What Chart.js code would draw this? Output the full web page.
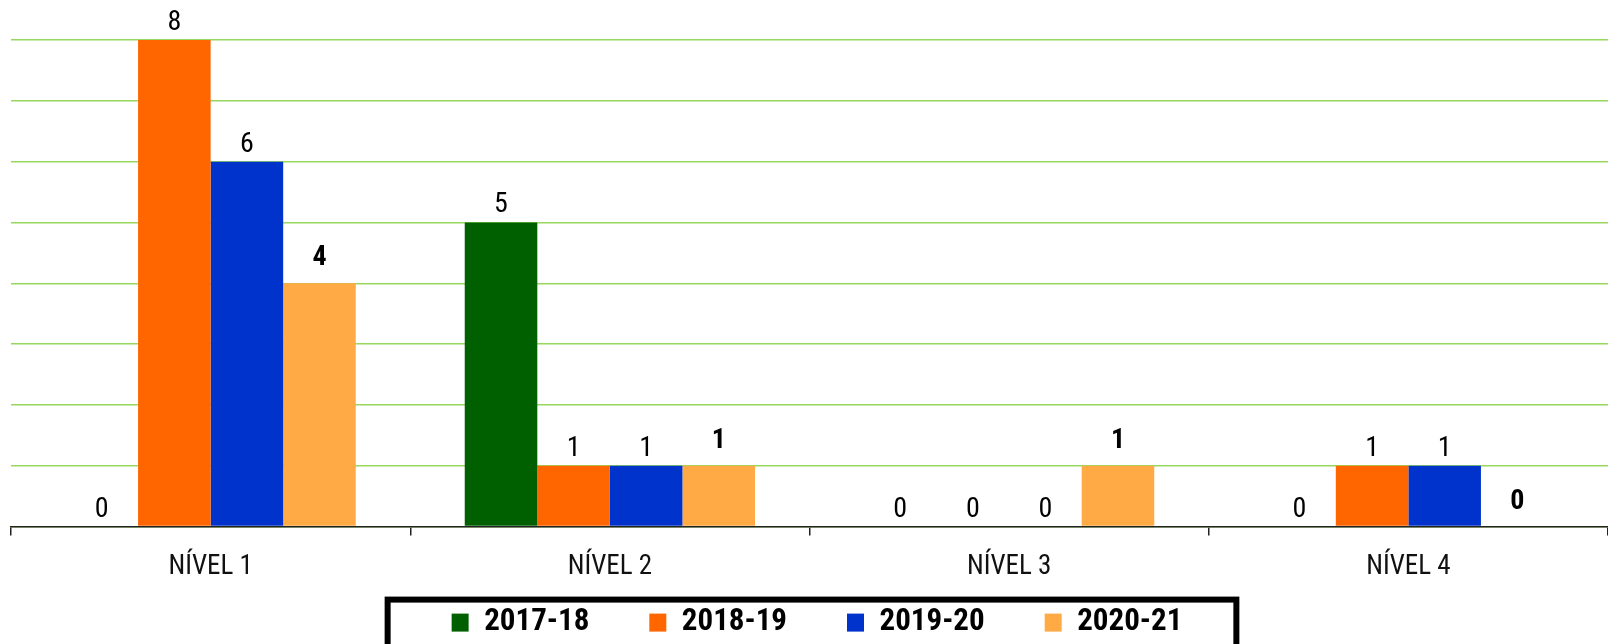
<!DOCTYPE html>
<html>
<head>
<meta charset="utf-8">
<script src="https://cdn.jsdelivr.net/npm/chart.js@4/dist/chart.umd.min.js"></script>
<style>
  html, body { margin: 0; padding: 0; background: #ffffff; }
  #wrap { width: 1608px; height: 644px; position: relative; }
</style>
</head>
<body>
<div id="wrap"><canvas id="c"></canvas></div>
<script>
const categories = ["NÍVEL 1", "NÍVEL 2", "NÍVEL 3", "NÍVEL 4"];
const seriesNames = ["2017-18", "2018-19", "2019-20", "2020-21"];
const values2017 = [0, 5, 0, 0];
const values2018 = [8, 1, 0, 1];
const values2019 = [6, 1, 0, 1];
const values2020 = [4, 1, 1, 0];
const yTicks = [0, 1, 2, 3, 4, 5, 6, 7, 8];

const colors = ["#006000", "#FF6600", "#0033CC", "#FFAA44"];
const FONT = '"Roboto Condensed", "Open Sans", sans-serif';
const labelBold = [false, false, false, true];

const dataLabels = {
  id: 'dataLabels',
  afterDatasetsDraw(chart) {
    const ctx = chart.ctx;
    chart.data.datasets.forEach((ds, i) => {
      const meta = chart.getDatasetMeta(i);
      meta.data.forEach((el, j) => {
        ctx.save();
        ctx.font = (labelBold[i] ? 'bold ' : '') + '28px ' + FONT;
        ctx.fillStyle = '#000';
        ctx.textAlign = 'center';
        ctx.textBaseline = 'alphabetic';
        ctx.fillText(String(ds.data[j]), el.x, el.y - (labelBold[i] ? 18 : 10));
        ctx.restore();
      });
    });
  }
};

const legendPlace = {
  id: 'legendPlace',
  afterLayout(chart) {
    const lg = chart.legend;
    const pad = lg.options.labels.padding;
    const ih = lg.options.labels.font.size;
    const top = chart.chartArea.bottom + 96 - pad - ih / 2;
    lg.height = ih + pad + 10;
    lg.top = top;
    lg.bottom = top + lg.height;
    lg.left += 6;
    lg.right += 6;
  },
  afterDraw(chart) {
    const hb = chart.legend.legendHitBoxes;
    if (!hb || !hb.length) return;
    const first = hb[0], last = hb[hb.length - 1];
    const cy = first.top + first.height / 2;
    const ctx = chart.ctx;
    ctx.save();
    ctx.strokeStyle = '#000';
    ctx.lineWidth = 6;
    const l = first.left - 64;
    const r = last.left + last.width + 54;
    ctx.strokeRect(l, cy - 23, r - l, 64);
    ctx.restore();
  }
};

new Chart(document.getElementById('c'), {
  type: 'bar',
  data: {
    labels: categories,
    datasets: [
      { label: seriesNames[0], data: values2017, backgroundColor: colors[0] },
      { label: seriesNames[1], data: values2018, backgroundColor: colors[1] },
      { label: seriesNames[2], data: values2019, backgroundColor: colors[2] },
      { label: seriesNames[3], data: values2020, backgroundColor: colors[3] }
    ]
  },
  options: {
    responsive: true,
    maintainAspectRatio: false,
    animation: false,
    layout: { padding: { top: 40, left: 11, right: -3, bottom: 0 } },
    datasets: { bar: { barPercentage: 1, categoryPercentage: 0.727 } },
    plugins: {
      tooltip: { enabled: false },
      legend: {
        position: 'bottom',
        maxHeight: 46,
        labels: {
          color: '#000',
          font: { family: FONT, size: 31, weight: 'bold' },
          boxWidth: 17,
          boxHeight: 18,
          padding: 60
        }
      }
    },
    scales: {
      x: {
        grid: { offset: true, drawOnChartArea: false, drawTicks: true, tickLength: 9, color: '#222', lineWidth: 1.5 },
        border: { display: true, color: '#222', width: 1.5 },
        ticks: { color: '#111', font: { family: FONT, size: 27 }, padding: 15 }
      },
      y: {
        min: 0, max: 8,
        afterBuildTicks(axis) { axis.ticks = yTicks.map(v => ({ value: v })); },
        grid: { color: '#98D85E', lineWidth: 1.5, drawTicks: false },
        border: { display: false },
        ticks: { display: false }
      }
    }
  },
  plugins: [dataLabels, legendPlace]
});
</script>
</body>
</html>
